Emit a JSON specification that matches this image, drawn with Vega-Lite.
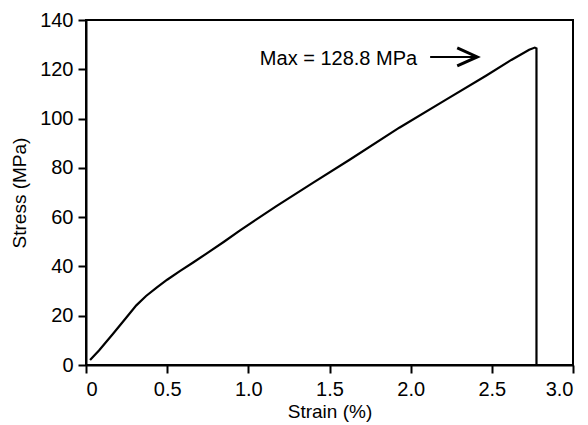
{
  "$schema": "https://vega.github.io/schema/vega-lite/v6.json",
  "width": 487,
  "height": 345,
  "autosize": {"type": "none"},
  "padding": {"left": 86, "top": 20, "right": 15, "bottom": 60},
  "background": "white",
  "config": {
    "font": "Liberation Sans",
    "view": {"stroke": "black", "strokeWidth": 2},
    "axis": {
      "grid": false,
      "domainColor": "black",
      "domainWidth": 2,
      "tickColor": "black",
      "tickWidth": 2,
      "tickSize": 8,
      "labelColor": "black",
      "labelFontSize": 20,
      "labelFont": "Liberation Sans",
      "titleColor": "black",
      "titleFontSize": 19,
      "titleFont": "Liberation Sans",
      "titleFontWeight": "normal",
      "labelPadding": 5
    }
  },
  "datasets": {
    "curve": [
      {"i": 1, "strain": 0.025, "stress": 2.0},
      {"i": 2, "strain": 0.08, "stress": 5.9},
      {"i": 3, "strain": 0.168, "stress": 12.8},
      {"i": 4, "strain": 0.25, "stress": 19.4},
      {"i": 5, "strain": 0.31, "stress": 24.2},
      {"i": 6, "strain": 0.37, "stress": 28.0},
      {"i": 7, "strain": 0.435, "stress": 31.4},
      {"i": 8, "strain": 0.5, "stress": 34.6},
      {"i": 9, "strain": 0.578, "stress": 38.1},
      {"i": 10, "strain": 0.66, "stress": 41.6},
      {"i": 11, "strain": 0.742, "stress": 45.2},
      {"i": 12, "strain": 0.85, "stress": 50.0},
      {"i": 13, "strain": 0.947, "stress": 54.5},
      {"i": 14, "strain": 1.05, "stress": 59.1},
      {"i": 15, "strain": 1.173, "stress": 64.5},
      {"i": 16, "strain": 1.4, "stress": 74.0},
      {"i": 17, "strain": 1.624, "stress": 83.3},
      {"i": 18, "strain": 1.93, "stress": 96.3},
      {"i": 19, "strain": 2.218, "stress": 107.7},
      {"i": 20, "strain": 2.464, "stress": 117.4},
      {"i": 21, "strain": 2.62, "stress": 123.8},
      {"i": 22, "strain": 2.73, "stress": 127.9},
      {"i": 23, "strain": 2.765, "stress": 128.8},
      {"i": 24, "strain": 2.775, "stress": 128.5},
      {"i": 25, "strain": 2.775, "stress": 0}
    ],
    "note": [
      {"strain": 2.04, "stress": 124.3, "label": "Max = 128.8 MPa"}
    ],
    "arrow": [
      {"x1": 2.12, "x2": 2.41, "stress": 125.0}
    ]
  },
  "layer": [
    {
      "data": {"name": "curve"},
      "mark": {"type": "line", "color": "black", "strokeWidth": 2.2},
      "encoding": {
        "x": {
          "field": "strain",
          "type": "quantitative",
          "scale": {"domain": [0, 3], "nice": false, "zero": true},
          "axis": {
            "title": "Strain (%)",
            "values": [0, 0.5, 1, 1.5, 2, 2.5, 3],
            "labelExpr": "datum.value == 0 ? '0' : format(datum.value, '.1f')",
            "labelPadding": 6,
            "titlePadding": 3
          }
        },
        "y": {
          "field": "stress",
          "type": "quantitative",
          "scale": {"domain": [0, 140], "nice": false},
          "axis": {
            "title": "Stress (MPa)",
            "values": [0, 20, 40, 60, 80, 100, 120, 140],
            "titlePadding": 10
          }
        },
        "order": {"field": "i", "type": "quantitative"}
      }
    },
    {
      "data": {"name": "note"},
      "mark": {"type": "text", "align": "right", "baseline": "middle", "fontSize": 20, "font": "Liberation Sans", "color": "black"},
      "encoding": {
        "x": {"field": "strain", "type": "quantitative"},
        "y": {"field": "stress", "type": "quantitative"},
        "text": {"field": "label"}
      }
    },
    {
      "data": {"name": "arrow"},
      "mark": {"type": "rule", "color": "black", "strokeWidth": 2},
      "encoding": {
        "x": {"field": "x1", "type": "quantitative"},
        "x2": {"field": "x2"},
        "y": {"field": "stress", "type": "quantitative"}
      }
    },
    {
      "data": {"name": "arrow"},
      "mark": {"type": "point", "shape": "M-2,-0.9L0,0L-2,0.9", "size": 400, "filled": false, "stroke": "black", "strokeWidth": 3, "opacity": 1},
      "encoding": {
        "x": {"field": "x2", "type": "quantitative"},
        "y": {"field": "stress", "type": "quantitative"}
      }
    }
  ]
}
